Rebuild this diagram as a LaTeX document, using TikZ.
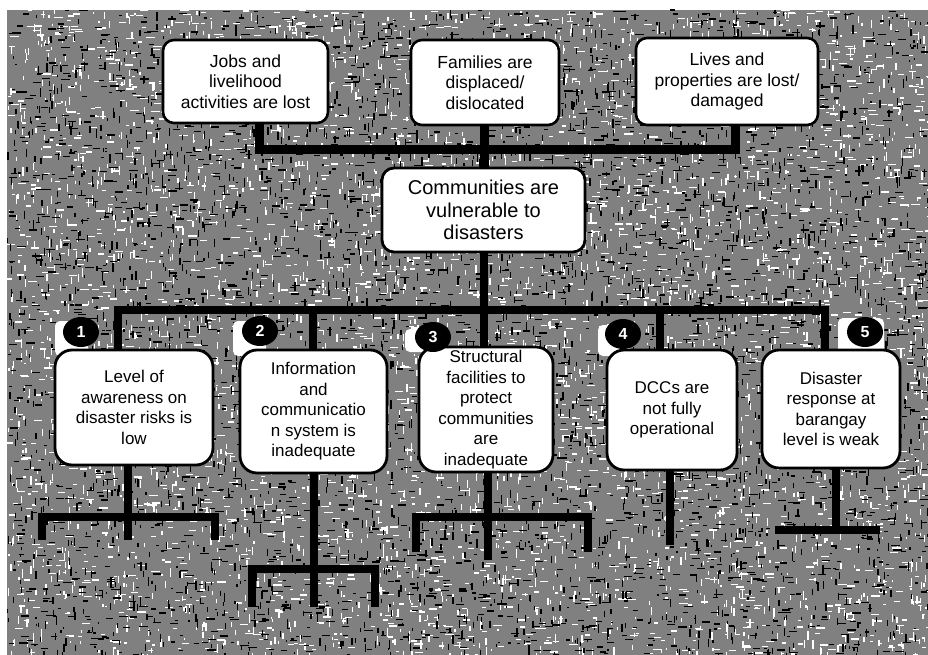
\documentclass[tikz,border=0pt]{standalone}
\usepackage{fontspec}
\setmainfont{Liberation Sans}
\usetikzlibrary{shapes.geometric}
\pgfdeclarelayer{grain}
\pgfdeclarelayer{links}
\pgfsetlayers{grain,links,main}

\tikzset{
  topbox/.style={draw=black, line width=2.6pt, fill=white, rounded corners=11pt,
    align=center, inner sep=2pt, font=\fontsize{17.5}{20.5}\selectfont},
  corebox/.style={draw=black, line width=2.8pt, fill=white, rounded corners=12pt,
    align=center, inner sep=2pt, font=\fontsize{20}{22.5}\selectfont},
  causebox/.style={draw=black, line width=2.8pt, fill=white, rounded corners=17pt,
    align=center, inner sep=2pt, font=\fontsize{17}{20.5}\selectfont},
  badge/.style={shape=ellipse, fill=black, text=white, inner sep=0pt,
    minimum width=36pt, minimum height=30pt, font=\bfseries\fontsize{16}{16}\selectfont},
  tab/.style={fill=white, rounded corners=5pt},
  bar/.style={draw=black, line width=8.5pt, line join=miter},
  grainW/.style={draw=white, line width=1.3pt},
  grainB/.style={draw=black, line width=1.3pt},
}

\begin{document}
\begin{tikzpicture}[x=1pt, y=-1pt]
\useasboundingbox (0,0) rectangle (928,655);

% ---------- boxes ----------
\node[topbox, minimum width=165pt, minimum height=83pt] (jobs) at (245.5,81.5)
  {Jobs and\\livelihood\\activities are lost};
\node[topbox, minimum width=148pt, minimum height=85pt] (families) at (485,82.5)
  {Families are\\displaced/\\dislocated};
\node[topbox, minimum width=182pt, minimum height=87pt] (lives) at (727,81.5)
  {Lives and\\properties are lost/\\damaged};

\node[corebox, minimum width=203pt, minimum height=84pt] (vuln) at (483.5,210)
  {Communities are\\vulnerable to\\disasters};

\node[causebox, minimum width=158pt, minimum height=115pt] (b1) at (134,407.5)
  {Level of\\awareness on\\disaster risks is\\low};
\node[causebox, minimum width=147pt, minimum height=123pt] (b2) at (313.5,411.5)
  {Information\\and\\communicatio\\n system is\\inadequate};
\node[causebox, minimum width=134pt, minimum height=125pt] (b3) at (486,409.5)
  {Structural\\facilities to\\protect\\communities\\are\\inadequate};
\node[causebox, minimum width=130pt, minimum height=120pt] (b4) at (672,410)
  {DCCs are\\not fully\\operational};
\node[causebox, minimum width=138pt, minimum height=118pt] (b5) at (831,409)
  {Disaster\\response at\\barangay\\level is weak};

% ---------- number badges ----------
\node[badge] (n1) at (81,332) {1};
\node[badge] (n2) at (260,331) {2};
\node[badge] (n3) at (433,337) {3};
\node[badge] (n4) at (623,334) {4};
\node[badge] (n5) at (865,332) {5};

% ---------- connectors ----------
\coordinate (tL) at (259,150);
\coordinate (tM) at (484,150);
\coordinate (tR) at (735,150);
\coordinate (lL) at (118,310);
\coordinate (lM) at (484,310);
\coordinate (lR) at (825,310);
\coordinate (d2) at (313,310);
\coordinate (d4) at (660,310);

% feet under the cause boxes
\coordinate (f1) at (128,540);  \coordinate (f1a) at (42,540);  \coordinate (f1b) at (215,540);
\coordinate (h1a) at (42,517);  \coordinate (h1b) at (215,517);
\coordinate (f2) at (314,607);  \coordinate (f2a) at (252,607); \coordinate (f2b) at (375,607);
\coordinate (h2a) at (252,569); \coordinate (h2b) at (375,569);
\coordinate (f3) at (488,560);  \coordinate (f3a) at (416,552); \coordinate (f3b) at (588,552);
\coordinate (h3a) at (416,517); \coordinate (h3b) at (588,517);
\coordinate (f4) at (670,545);
\coordinate (f5) at (836,530);  \coordinate (h5a) at (775,530); \coordinate (h5b) at (880,530);

\begin{pgfonlayer}{links}
  % effects join the core problem
  \draw[bar, line width=9pt] (jobs.south -| tL) -- (tL) -- (tR) -- (lives.south -| tR);
  \draw[bar, line width=9pt] (families.south -| tM) -- (vuln.north -| tM);
  % core problem fans out to the causes
  \draw[bar] (b1.north -| lL) -- (lL) -- (lR) -- (b5.north -| lR);
  \draw[bar] (vuln.south -| lM) -- (b3.north -| lM);
  \draw[bar] (d2) -- (b2.north -| d2);
  \draw[bar] (d4) -- (b4.north -| d4);
  % sub-causes
  \draw[bar] (b1.south -| f1) -- (f1);
  \draw[bar] (f1a) -- (h1a) -- (h1b) -- (f1b);
  \draw[bar] (b2.south -| f2) -- (f2);
  \draw[bar] (f2a) -- (h2a) -- (h2b) -- (f2b);
  \draw[bar] (b3.south -| f3) -- (f3);
  \draw[bar] (f3a) -- (h3a) -- (h3b) -- (f3b);
  \draw[bar] (b4.south -| f4) -- (f4);
  \draw[bar] (b5.south -| f5) -- (f5);
  \draw[bar] (h5a) -- (h5b);
  % white tabs carrying the badges
  \fill[tab] (55,321) rectangle (88,356);
  \fill[tab] (233,321) rectangle (266,356);
  \fill[tab] (405,329) rectangle (438,352);
  \fill[tab] (598,325) rectangle (630,356);
  \fill[tab] (838,318) rectangle (884,356);
\end{pgfonlayer}

% ---------- grainy backdrop ----------
\begin{pgfonlayer}{grain}
  \begin{scope}
    \clip (7,10) rectangle (928,655);
    \fill[black!50] (7,10) rectangle (928,655);
    \pgfmathsetseed{4242}
    \foreach \i in {1,...,5600}{
      \pgfmathsetmacro\gx{7+921*rnd}
      \pgfmathsetmacro\gy{10+645*rnd}
      \pgfmathsetmacro\gl{2+7*rnd}
      \pgfmathsetmacro\gd{rnd}
      \ifdim\gd pt<0.5pt
        \draw[grainW] (\gx,\gy) -- ++(\gl,0);
      \else
        \draw[grainW] (\gx,\gy) -- ++(0,\gl);
      \fi
    }
    \foreach \i in {1,...,5600}{
      \pgfmathsetmacro\gx{7+921*rnd}
      \pgfmathsetmacro\gy{10+645*rnd}
      \pgfmathsetmacro\gl{2+7*rnd}
      \pgfmathsetmacro\gd{rnd}
      \ifdim\gd pt<0.5pt
        \draw[grainB] (\gx,\gy) -- ++(\gl,0);
      \else
        \draw[grainB] (\gx,\gy) -- ++(0,\gl);
      \fi
    }
  \end{scope}
\end{pgfonlayer}
\end{tikzpicture}
\end{document}
